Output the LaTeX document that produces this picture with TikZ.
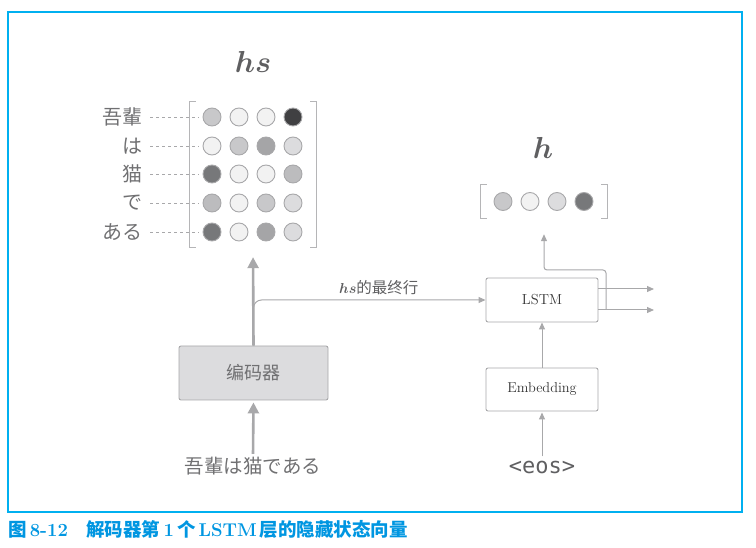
\documentclass[tikz,border=0pt]{standalone}
\usepackage{amsmath,amssymb}
\usepackage{bm}
\usepackage{fontspec}
\usepackage{xcolor}
\usepackage{tikz}
\usetikzlibrary{arrows.meta,positioning,calc}
\newfontfamily\jp{Noto Sans CJK JP}
\newfontfamily\zh{Noto Sans CJK SC}
\newfontfamily\monof{DejaVu Sans Mono}
\definecolor{framecyan}{RGB}{0, 176, 240}
\definecolor{capblue}{RGB}{0, 150, 225}
\definecolor{txtgray}{RGB}{95, 95, 97}
\definecolor{wordgray}{RGB}{112, 112, 114}
\definecolor{linegray}{RGB}{168, 168, 170}
\definecolor{encfill}{RGB}{220, 220, 222}
\definecolor{g1}{RGB}{242, 242, 242}
\definecolor{g2}{RGB}{220, 220, 222}
\definecolor{g3}{RGB}{200, 200, 202}
\definecolor{g4}{RGB}{188, 188, 190}
\definecolor{g5}{RGB}{165, 165, 167}
\definecolor{g6}{RGB}{119, 120, 122}
\definecolor{g7}{RGB}{64, 64, 66}

\tikzset{
  cell/.style={circle, draw=linegray, line width=0.9pt, minimum size=18pt, inner sep=0pt},
  wordlbl/.style={anchor=east, text=wordgray, font=\jp\fontsize{20}{20}\selectfont, inner sep=1pt},
  blockbox/.style={draw=linegray, line width=0.9pt, rounded corners=2pt, align=center},
  conn/.style={draw=linegray, line width=1pt, -{Triangle[length=7pt, width=6pt]}},
  bigarrow/.style={draw=linegray, line width=2.6pt, -{Triangle[length=11pt, width=11pt]}},
  bracketline/.style={draw=linegray!85, line width=1.1pt},
  veclbl/.style={text=txtgray, font=\Huge, scale=1.22}
}

\begin{document}
\begin{tikzpicture}[x=1pt, y=-1pt]
    \useasboundingbox (0,0) rectangle (756,548);
    % Frame and caption
    \draw[framecyan, line width=1.3pt] (8,12) rectangle (742,512);
    \node[anchor=west, text=capblue, inner sep=0pt] (cap) at (8,529)
      {\zh\bfseries\fontsize{18.5}{18.5}\selectfont 图\,{\rmfamily\bfseries 8-12}\quad 解码器第\,{\rmfamily\bfseries 1}\,个\,{\rmfamily\bfseries LSTM}\,层的隐藏状态向量};

    % Tier 1: hs matrix
    \node[veclbl] (hslbl) at (253,62) {$\bm{hs}$};
    \node[minimum width=126pt, minimum height=145pt, inner sep=0pt] (hsmat) at (253,174.5) {};
    \draw[bracketline] ([xshift=6pt]hsmat.north west) -- (hsmat.north west) -- (hsmat.south west) -- ([xshift=6pt]hsmat.south west);
    \draw[bracketline] ([xshift=-6pt]hsmat.north east) -- (hsmat.north east) -- (hsmat.south east) -- ([xshift=-6pt]hsmat.south east);
    \foreach \row/\y/\word/\cols in {1/117/吾輩/{g3,g1,g1,g7}, 2/146/は/{g1,g3,g5,g2}, 3/174/猫/{g6,g1,g1,g4}, 4/203/で/{g4,g1,g3,g2}, 5/232/ある/{g6,g1,g5,g2}} {
      \foreach \c [count=\i] in \cols {
        \node[cell, fill=\c] (c\row-\i) at ({212+27*(\i-1)},\y) {};
      }
      \node[wordlbl] (w\row) at (144,\y) {\word};
      \draw[linegray, dashed, line width=0.8pt, shorten <=6pt, shorten >=4pt] (w\row.east) -- (c\row-1.west);
    }

    % Tier 2: encoder
    \node[blockbox, fill=encfill, minimum width=149pt, minimum height=54pt, text=wordgray, font=\zh\fontsize{18}{18}\selectfont] (enc) at (253.5,373) {编码器};
    \node[text=wordgray, font=\jp\fontsize{19.5}{19.5}\selectfont, inner sep=1pt] (inp) at (253,466) {吾輩は猫である};
    \draw[bigarrow, shorten <=2pt, shorten >=2pt] (inp.north) -- (enc.south);
    \draw[bigarrow, shorten >=10pt] (enc.north) -- (hsmat.south);

    % Tier 3: decoder LSTM
    \node[blockbox, fill=white, minimum width=112pt, minimum height=44pt, font=\fontsize{14.5}{14.5}\selectfont, text=black!80] (lstm) at (542,300) {LSTM};
    \node[blockbox, fill=white, minimum width=112pt, minimum height=43pt, font=\fontsize{14.3}{14.3}\selectfont, text=black!80] (emb) at (542,389.5) {Embedding};
    \node[text=txtgray, font=\monof\fontsize{22}{22}\selectfont, inner sep=1pt] (eos) at (542,467) {<eos>};
    \draw[conn, shorten <=3pt, shorten >=1pt] (eos.north) -- (emb.south);
    \draw[conn] (emb.north) -- (lstm.south);
    \draw[conn, rounded corners=8pt] (enc.north) |- (lstm.west)
      node[pos=0.77, above=1pt, text=txtgray, font=\zh\fontsize{15.5}{15.5}\selectfont] (lastrow) {$\bm{hs}$的最终行};

    % Tier 4: h vector
    \node[veclbl] (hlbl) at (543,148) {$\bm{h}$};
    \node[minimum width=126pt, minimum height=33pt, inner sep=0pt] (hvec) at (544,201.5) {};
    \draw[bracketline] ([xshift=6pt]hvec.north west) -- (hvec.north west) -- (hvec.south west) -- ([xshift=6pt]hvec.south west);
    \draw[bracketline] ([xshift=-6pt]hvec.north east) -- (hvec.north east) -- (hvec.south east) -- ([xshift=-6pt]hvec.south east);
    \foreach \c [count=\i] in {g3,g1,g2,g6} {
      \node[cell, fill=\c] (h\i) at ({503+27*(\i-1)},201.5) {};
    }

    % Outputs of LSTM
    \coordinate (out1) at (654,289);
    \coordinate (out2) at (654,310);
    \coordinate (tap) at (606,310);
    \draw[conn] (lstm.east |- out1) -- (out1);
    \draw[conn] (lstm.east |- out2) -- (out2);
    \draw[conn, rounded corners=3pt, shorten >=16pt] (tap) -- (606,270) -| (hvec.south);
\end{tikzpicture}
\end{document}
